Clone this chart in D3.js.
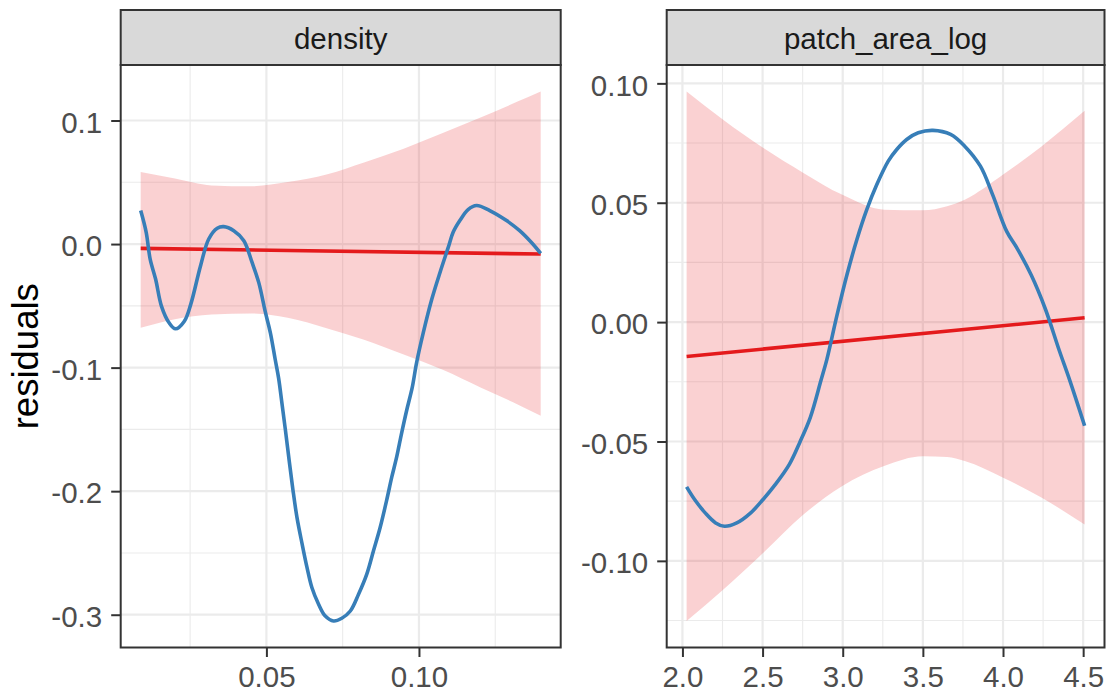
<!DOCTYPE html>
<html>
<head>
<meta charset="utf-8">
<script src="https://cdn.jsdelivr.net/npm/d3@7"></script>
<style>
  html, body { margin: 0; padding: 0; background: #ffffff; }
  svg { display: block; font-family: "Liberation Sans", Arial, sans-serif; }
</style>
</head>
<body>
<svg id="chart" width="1112" height="695"></svg>
<script>
// ---- density facet -------------------------------------------------------
const densityLabel = "density";
const densityBandX    = [0.0088, 0.020, 0.032, 0.045, 0.057, 0.070, 0.082, 0.095, 0.108, 0.120, 0.1325, 0.1399];
const densityBandHigh = [0.0583, 0.0530, 0.0475, 0.0468, 0.0502, 0.0565, 0.0660, 0.0772, 0.0900, 0.1022, 0.1155, 0.1235];
const densityBandLow  = [-0.0678, -0.0608, -0.0570, -0.0562, -0.0597, -0.0683, -0.0774, -0.0893, -0.1020, -0.1158, -0.1300, -0.1389];
const densityFitX = [0.0088, 0.1399];
const densityFitY = [-0.0035, -0.0081];
const densitySmoothX = [0.0088, 0.0106, 0.0119, 0.0137, 0.0156, 0.0181, 0.0202, 0.0231, 0.0252, 0.0284,
                        0.0311, 0.0339, 0.0360, 0.0393, 0.0426, 0.0453, 0.0475, 0.0497, 0.0513, 0.0529,
                        0.0540, 0.0551, 0.0562, 0.0575, 0.0587, 0.0600, 0.0617, 0.0633, 0.0649, 0.0671,
                        0.0693, 0.0720, 0.0747, 0.0775, 0.0802, 0.0829, 0.0851, 0.0873, 0.0894, 0.0911,
                        0.0927, 0.0943, 0.0960, 0.0978, 0.0992, 0.1014, 0.1042, 0.1069, 0.1096, 0.1112,
                        0.1134, 0.1161, 0.1189, 0.1232, 0.1287, 0.1330, 0.1368, 0.1399];
const densitySmoothY = [0.0271, 0.0095, -0.0122, -0.0285, -0.0502, -0.0637, -0.0686, -0.0624, -0.0488, -0.0177,
                        0.0041, 0.0128, 0.0141, 0.0108, 0.0027, -0.0149, -0.0312, -0.0555, -0.0718, -0.0936,
                        -0.1085, -0.1290, -0.1500, -0.1760, -0.1990, -0.2210, -0.2427, -0.2617, -0.2780, -0.2915,
                        -0.3011, -0.3051, -0.3029, -0.2970, -0.2834, -0.2671, -0.2482, -0.2292, -0.2075, -0.1885,
                        -0.1723, -0.1532, -0.1343, -0.1160, -0.0963, -0.0719, -0.0447, -0.0230, -0.0027, 0.0095,
                        0.0190, 0.0279, 0.0312, 0.0271, 0.0190, 0.0108, 0.0014, -0.0076];
const densityTicksX = [0.05, 0.10];
const densityMinorX = [0.025, 0.075, 0.125];
const densityTicksY = [0.1, 0.0, -0.1, -0.2, -0.3];
const densityMinorY = [0.05, -0.05, -0.15, -0.25];

// ---- patch_area_log facet ------------------------------------------------
const patchLabel = "patch_area_log";
const patchBandX    = [2.026, 2.252, 2.503, 2.755, 2.995, 3.258, 3.500, 3.651, 3.761, 4.001, 4.242, 4.509];
const patchBandHigh = [0.0966, 0.0849, 0.0730, 0.0625, 0.0534, 0.0471, 0.0468, 0.0485, 0.0513, 0.0618, 0.0737, 0.0885];
const patchBandLow  = [-0.1252, -0.1122, -0.0967, -0.0806, -0.0687, -0.0603, -0.0562, -0.0565, -0.0582, -0.0652, -0.0736, -0.0848];
const patchFitX = [2.026, 4.509];
const patchFitY = [-0.0144, 0.0018];
const patchSmoothX = [2.026, 2.076, 2.142, 2.207, 2.262, 2.339, 2.426, 2.503, 2.580, 2.667,
                      2.732, 2.798, 2.864, 2.902, 2.964, 3.026, 3.088, 3.150, 3.212, 3.284,
                      3.337, 3.399, 3.471, 3.563, 3.673, 3.761, 3.859, 3.935, 4.023, 4.088,
                      4.176, 4.263, 4.351, 4.417, 4.509];
const patchSmoothY = [-0.0690, -0.0743, -0.0799, -0.0841, -0.0855, -0.0841, -0.0799, -0.0743, -0.0680, -0.0596,
                      -0.0504, -0.0399, -0.0245, -0.0154, 0.0028, 0.0197, 0.0345, 0.0471, 0.0575, 0.0674,
                      0.0723, 0.0765, 0.0793, 0.0803, 0.0786, 0.0737, 0.0653, 0.0534, 0.0380, 0.0309,
                      0.0197, 0.0057, -0.0119, -0.0245, -0.0434];
const patchTicksX = [2.0, 2.5, 3.0, 3.5, 4.0, 4.5];
const patchMinorX = [2.25, 2.75, 3.25, 3.75, 4.25];
const patchTicksY = [0.10, 0.05, 0.00, -0.05, -0.10];
const patchMinorY = [0.075, 0.025, -0.025, -0.075, -0.125];

const yTitle = "residuals";

// ---- layout & style ------------------------------------------------------
const svg = d3.select("#chart");
const panelTop = 65, panelBottom = 647.5, stripTop = 10;
const tickFont = 29.5, titleFont = 36.5;
const colBand = "#E41A1C", colFit = "#E41A1C", colSmooth = "#377EB8";

const facets = [
  { label: densityLabel, left: 120.7, right: 560.7,
    bandX: densityBandX, bandHigh: densityBandHigh, bandLow: densityBandLow,
    fitX: densityFitX, fitY: densityFitY, smX: densitySmoothX, smY: densitySmoothY,
    ticksX: densityTicksX, minorX: densityMinorX, ticksY: densityTicksY, minorY: densityMinorY,
    fmtX: d => d.toFixed(2), fmtY: d => d.toFixed(1) },
  { label: patchLabel, left: 666.7, right: 1104.5,
    bandX: patchBandX, bandHigh: patchBandHigh, bandLow: patchBandLow,
    fitX: patchFitX, fitY: patchFitY, smX: patchSmoothX, smY: patchSmoothY,
    ticksX: patchTicksX, minorX: patchMinorX, ticksY: patchTicksY, minorY: patchMinorY,
    fmtX: d => d.toFixed(1), fmtY: d => d.toFixed(2) }
];

// continuous scale with 5% padding on each side of the data range
function padded(lo, hi) {
  const p = (hi - lo) * 0.05;
  return [lo - p, hi + p];
}

facets.forEach((f, i) => {
  const xAll = f.bandX.concat(f.smX, f.fitX);
  const yAll = f.bandHigh.concat(f.bandLow, f.smY, f.fitY);
  const x = d3.scaleLinear().domain(padded(d3.min(xAll), d3.max(xAll))).range([f.left, f.right]);
  const y = d3.scaleLinear().domain(padded(d3.min(yAll), d3.max(yAll))).range([panelBottom, panelTop]);

  const g = svg.append("g");
  const clipId = "clip" + i;
  svg.append("clipPath").attr("id", clipId)
    .append("rect").attr("x", f.left).attr("y", panelTop)
    .attr("width", f.right - f.left).attr("height", panelBottom - panelTop);

  const grid = g.append("g").attr("clip-path", `url(#${clipId})`);
  // minor grid
  grid.selectAll(".mx").data(f.minorX).join("line")
    .attr("x1", d => x(d)).attr("x2", d => x(d)).attr("y1", panelTop).attr("y2", panelBottom)
    .attr("stroke", "#EBEBEB").attr("stroke-width", 1.1);
  grid.selectAll(".my").data(f.minorY).join("line")
    .attr("y1", d => y(d)).attr("y2", d => y(d)).attr("x1", f.left).attr("x2", f.right)
    .attr("stroke", "#EBEBEB").attr("stroke-width", 1.1);
  // major grid
  grid.selectAll(".Mx").data(f.ticksX).join("line")
    .attr("x1", d => x(d)).attr("x2", d => x(d)).attr("y1", panelTop).attr("y2", panelBottom)
    .attr("stroke", "#EBEBEB").attr("stroke-width", 2.2);
  grid.selectAll(".My").data(f.ticksY).join("line")
    .attr("y1", d => y(d)).attr("y2", d => y(d)).attr("x1", f.left).attr("x2", f.right)
    .attr("stroke", "#EBEBEB").attr("stroke-width", 2.2);

  const marks = g.append("g").attr("clip-path", `url(#${clipId})`);
  // confidence band of the linear fit
  const band = f.bandX.map((v, k) => ({ x: v, lo: f.bandLow[k], hi: f.bandHigh[k] }));
  marks.append("path").datum(band)
    .attr("d", d3.area().x(d => x(d.x)).y0(d => y(d.lo)).y1(d => y(d.hi)).curve(d3.curveMonotoneX))
    .attr("fill", colBand).attr("fill-opacity", 0.2);
  // linear fit
  const fit = f.fitX.map((v, k) => ({ x: v, y: f.fitY[k] }));
  marks.append("path").datum(fit)
    .attr("d", d3.line().x(d => x(d.x)).y(d => y(d.y)))
    .attr("fill", "none").attr("stroke", colFit).attr("stroke-width", 3.6);
  // smoother
  const sm = f.smX.map((v, k) => ({ x: v, y: f.smY[k] }));
  marks.append("path").datum(sm)
    .attr("d", d3.line().x(d => x(d.x)).y(d => y(d.y)).curve(d3.curveCatmullRom.alpha(0.5)))
    .attr("fill", "none").attr("stroke", colSmooth).attr("stroke-width", 3.6)
    .attr("stroke-linejoin", "round");

  // axes
  const ax = g.append("g").attr("transform", `translate(0,${panelBottom})`)
    .call(d3.axisBottom(x).tickValues(f.ticksX).tickFormat(f.fmtX).tickSize(9.5).tickPadding(9));
  const ay = g.append("g").attr("transform", `translate(${f.left},0)`)
    .call(d3.axisLeft(y).tickValues(f.ticksY).tickFormat(f.fmtY).tickSize(9.5).tickPadding(9));
  [ax, ay].forEach(a => {
    a.select(".domain").remove();
    a.selectAll(".tick line").attr("stroke", "#333333").attr("stroke-width", 2);
    a.selectAll(".tick text").attr("fill", "#4D4D4D").attr("font-size", tickFont)
      .attr("font-family", "'Liberation Sans', Arial, sans-serif");
  });
  ay.selectAll(".tick text").attr("dy", "0.40em");

  // panel border
  g.append("rect").attr("x", f.left).attr("y", panelTop)
    .attr("width", f.right - f.left).attr("height", panelBottom - panelTop)
    .attr("fill", "none").attr("stroke", "#333333").attr("stroke-width", 2);

  // strip
  g.append("rect").attr("x", f.left).attr("y", stripTop)
    .attr("width", f.right - f.left).attr("height", panelTop - stripTop)
    .attr("fill", "#D9D9D9").attr("stroke", "#333333").attr("stroke-width", 2);
  g.append("text").attr("x", (f.left + f.right) / 2).attr("y", (stripTop + panelTop) / 2 + 11.5)
    .attr("text-anchor", "middle").attr("font-size", tickFont).attr("fill", "#1A1A1A")
    .text(f.label);
});

// y axis title
svg.append("text")
  .attr("transform", `translate(38,${(panelTop + panelBottom) / 2}) rotate(-90)`)
  .attr("text-anchor", "middle").attr("font-size", titleFont).attr("fill", "#000000")
  .text(yTitle);
</script>
</body>
</html>
